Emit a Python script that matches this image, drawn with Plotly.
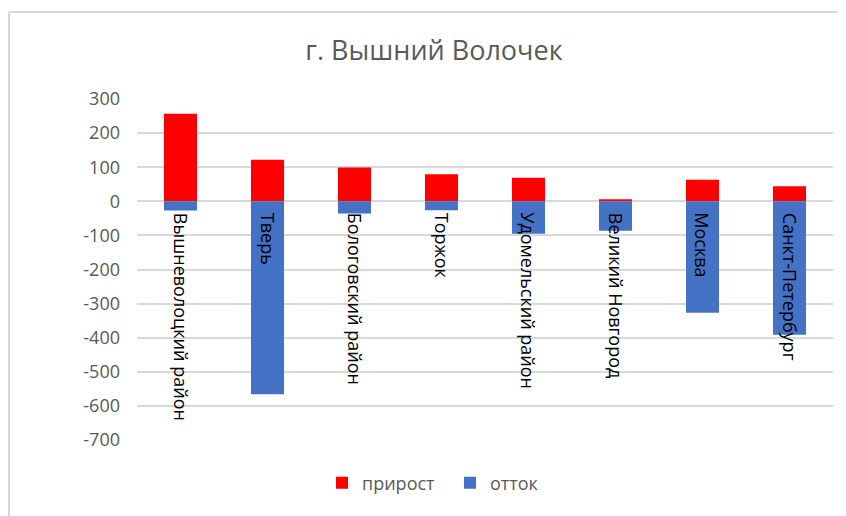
import plotly.graph_objects as go

categories = ["Вышневолоцкий район", "Тверь", "Бологовский район", "Торжок",
              "Удомельский район", "Великий Новгород", "Москва", "Санкт-Петербург"]
growth = [257, 122, 99, 79, 69, 6, 63, 44]             # прирост
outflow = [-27, -566, -36, -26, -95, -86, -327, -391]  # отток
tick_vals = [300, 200, 100, 0, -100, -200, -300, -400, -500, -600, -700]
tick_text = ["300", "200", "100", "0", "-100", "-200", "-300", "-400", "-500", "-600", "-700"]

FONT = "Open Sans"
GRAY = "#595959"
W, H = 838, 516
L, R, T, B = 129, 13, 91, 84
PW, PH = W - L - R, H - T - B


def px(fx):
    return (fx - L) / PW


def py(fy):
    return (H - B - fy) / PH


fig = go.Figure()
fig.add_trace(go.Bar(x=categories, y=growth, name="прирост",
                     marker=dict(color="#FF0000", line=dict(width=0))))
fig.add_trace(go.Bar(x=categories, y=outflow, name="отток",
                     marker=dict(color="#4472C4", line=dict(width=0))))

for c in categories:
    fig.add_annotation(x=c, y=0, xref="x", yref="y", text=c, showarrow=False,
                       textangle=90, yanchor="top", xanchor="center", yshift=-9,
                       font=dict(family=FONT, size=18, color="#000000"))

# chart frame (top and left edges visible)
fig.add_shape(type="line", xref="paper", yref="paper",
              x0=px(1), x1=px(W), y0=py(4), y1=py(4),
              line=dict(color="#D9D9D9", width=2))
fig.add_shape(type="line", xref="paper", yref="paper",
              x0=px(1), x1=px(1), y0=py(4), y1=py(H),
              line=dict(color="#D9D9D9", width=2))

fig.update_layout(
    width=W, height=H,
    barmode="relative", bargap=0.62,
    paper_bgcolor="white", plot_bgcolor="white",
    margin=dict(l=L, r=R, t=T, b=B),
    title=dict(text="г. Вышний Волочек", x=426 / W, xanchor="center",
               y=1 - 43 / H, yanchor="middle",
               font=dict(family=FONT, size=27, color=GRAY)),
    font=dict(family=FONT, color=GRAY),
    xaxis=dict(showticklabels=False, showgrid=False, zeroline=False,
               showline=False, ticks=""),
    yaxis=dict(range=[-700, 300], tickvals=tick_vals, ticktext=tick_text,
               showgrid=True, gridcolor="#D9D9D9", gridwidth=1.5,
               zeroline=True, zerolinecolor="#D9D9D9", zerolinewidth=1.5,
               showline=False, ticks="", ticklabelstandoff=16,
               tickfont=dict(family=FONT, size=18, color=GRAY)),
    legend=dict(orientation="h", x=px(314), xanchor="left", y=py(475),
                yanchor="middle", font=dict(family=FONT, size=18, color=GRAY),
                itemwidth=30, entrywidth=83, traceorder="normal"),
)

fig.write_html("out.html", config={"displayModeBar": False})
